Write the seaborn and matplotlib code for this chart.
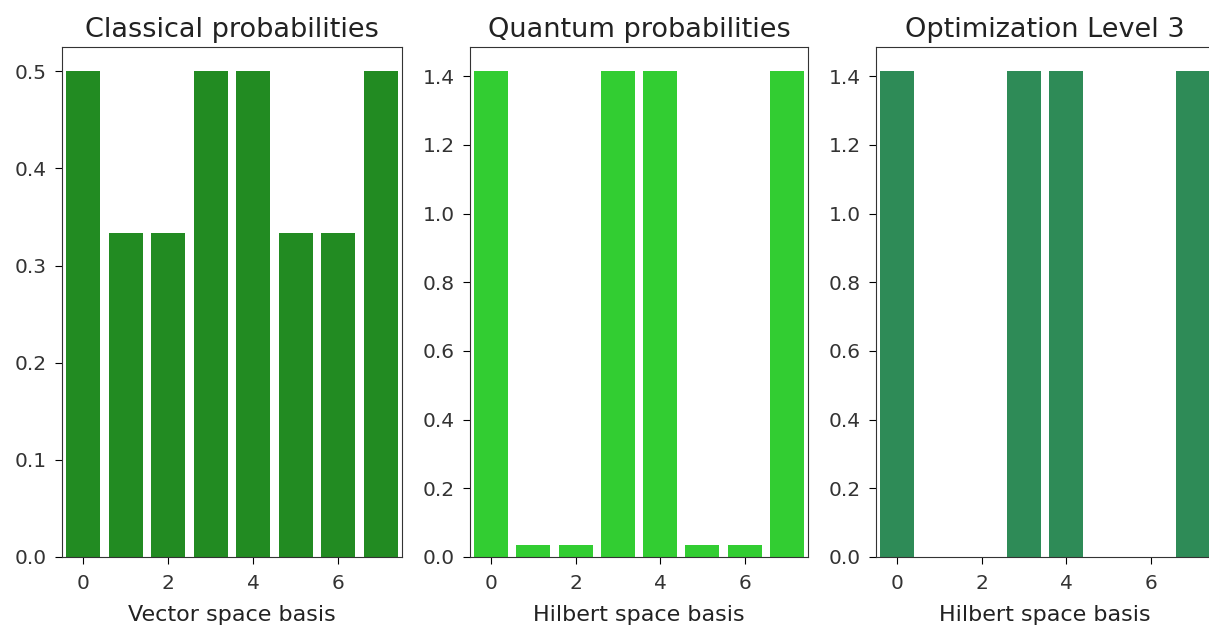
import matplotlib
matplotlib.use("Agg")
import matplotlib.pyplot as plt
import seaborn as sns
import pandas as pd

# Basis states and probability-like values for each panel
basis = [0, 1, 2, 3, 4, 5, 6, 7]
classical = [0.5, 0.3333, 0.3333, 0.5, 0.5, 0.3333, 0.3333, 0.5]
quantum = [1.4142, 0.035, 0.035, 1.4142, 1.4142, 0.035, 0.035, 1.4142]
optimized = [1.4142, 0.0, 0.0, 1.4142, 1.4142, 0.0, 0.0, 1.4142]

titles = ["Classical probabilities", "Quantum probabilities", "Optimization Level 3"]
xlabels = ["Vector space basis", "Hilbert space basis", "Hilbert space basis"]
colors = ["forestgreen", "limegreen", "seagreen"]
tick_pos = [0, 2, 4, 6]

W, H = 1209, 630
fig = plt.figure(figsize=(W / 100, H / 100), dpi=100)

# panel boxes in pixels: left, width
boxes = [(62, 340), (470, 338), (876, 338)]
top, bottom = 47, 557

series = [classical, quantum, optimized]
for (left, width), vals, title, xl, col in zip(boxes, series, titles, xlabels, colors):
    ax = fig.add_axes([left / W, (H - bottom) / H, width / W, (bottom - top) / H])
    df = pd.DataFrame({"basis": basis, "value": vals})
    sns.barplot(data=df, x="basis", y="value", color=col, saturation=1,
                width=0.8, errorbar=None, linewidth=0, ax=ax)
    ax.set_xlim(-0.5, 7.5)
    ax.set_xticks(tick_pos, labels=[str(t) for t in tick_pos])
    ax.set_title(title, fontsize=19.5, pad=7, color="#222222")
    ax.set_xlabel(xl, fontsize=16, labelpad=9, color="#222222")
    ax.set_ylabel("")
    ax.tick_params(axis="y", labelsize=14.5, length=5, pad=6, labelcolor="#333333")
    ax.tick_params(axis="x", labelsize=14.5, length=5, pad=7, labelcolor="#333333")
    for s in ax.spines.values():
        s.set_color("#333333")

fig.savefig("out.png", dpi=100)
